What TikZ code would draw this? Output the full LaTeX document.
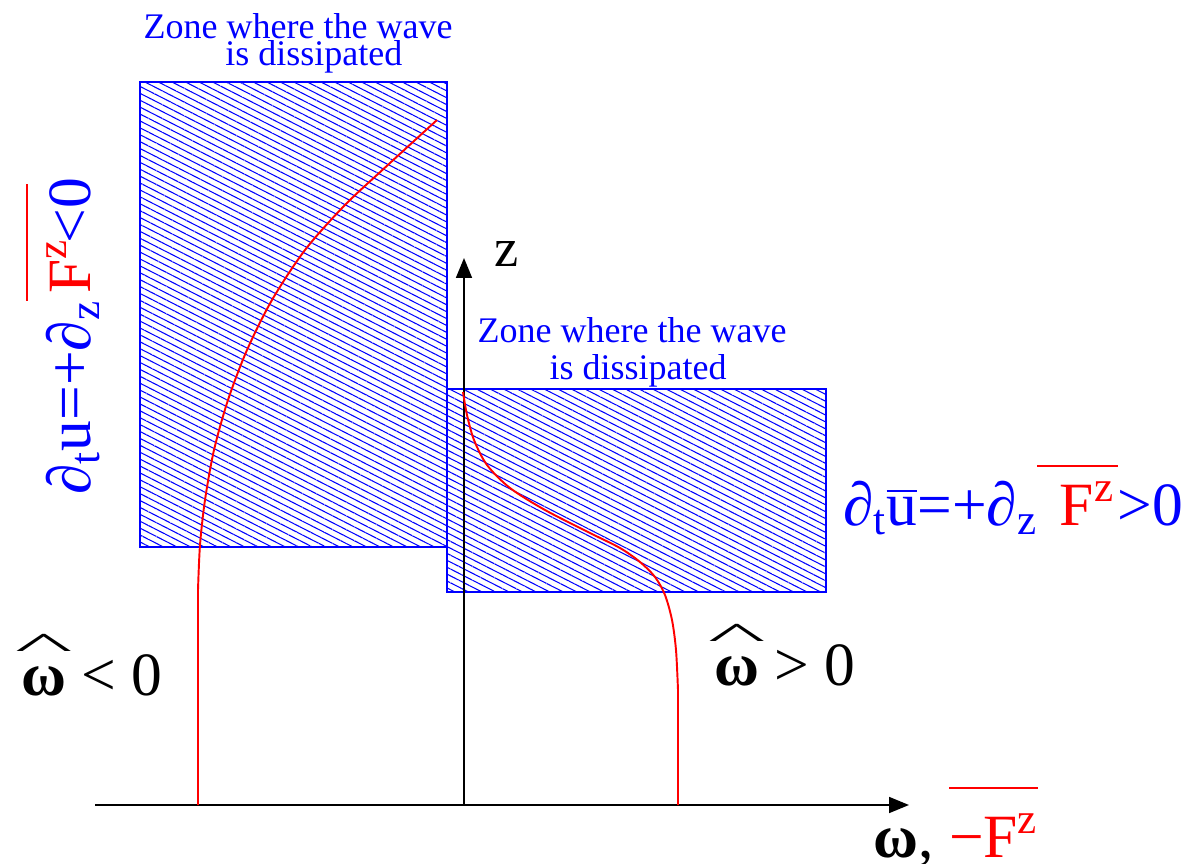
\documentclass[tikz,border=0pt]{standalone}
\usepackage{fix-cm}
\usepackage{amsmath}
\usepackage{fontspec}
\setmainfont{Liberation Serif}
\usetikzlibrary{arrows.meta, patterns.meta}

% omega with a wide chevron hat
\newcommand{\omhat}{{\ooalign{\textbf{ω}\cr\hidewidth\raisebox{0.6em}{\scalebox{2.0}[0.6]{\textasciicircum}}\hidewidth\cr}}}

\begin{document}
\begin{tikzpicture}[
  x=0.02cm, y=-0.02cm,
  zone/.style={draw=blue, line width=1pt, pattern color=blue,
               pattern={Lines[angle=-27, distance=3.5pt, line width=0.6pt]}},
  wave/.style={red, line width=1.1pt},
  axis/.style={-{Triangle[length=0.4cm, width=0.32cm]}, line width=1pt},
  zonelabel/.style={blue, align=center, inner sep=0pt},
  eqlabel/.style={blue, inner sep=0pt, anchor=base west,
                  font=\fontsize{35}{40}\selectfont},
  omegalabel/.style={inner sep=0pt, anchor=base west,
                     font=\fontsize{35}{40}\selectfont}
]
\useasboundingbox (0,0) rectangle (1203,864);

% dissipation zones
\draw[zone] (140,82) rectangle (447,547);
\draw[zone] (447,389) rectangle (826,592);

\node[zonelabel, font=\fontsize{20.5}{15.4}\selectfont] (topzone) at (298,43)
  {Zone where the wave\\\hspace*{18pt}is dissipated};
\node[zonelabel, font=\fontsize{20.5}{21}\selectfont] (midzone) at (632,352)
  {Zone where the wave\\\hspace*{7pt}is dissipated};

% axes
\coordinate (origin) at (464,805);
\coordinate (xstart) at (95,805);
\coordinate (xend) at (909,805);
\coordinate (ztip) at (464,258);
\draw[axis] (xstart) -- (xend);
\draw[axis] (origin) -- (ztip);
\node[font=\fontsize{31}{31}\selectfont, anchor=base, inner sep=0pt] (zlabel) at (507,267) {z};
\node[omegalabel] (xlabel) at (873,857)
  {\textbf{ω}, \textcolor{red}{$\overline{\text{−F}^{\text{z}}\rule{0pt}{1.02em}}$}};

% wave profiles
\draw[wave] (198,805) -- (198,590)
  plot[smooth] coordinates {(198,590) (200,545) (205,500) (214,450) (228,400)
    (247,350) (272,300) (305,250) (345,205) (390,163) (437,120)};
\draw[wave] (678,805) -- (678,690)
  plot[smooth] coordinates {(678,690) (676,650) (672,620) (665,595) (655,577)
    (640,562) (620,548) (590,533) (545,510) (510,488) (487,465) (474,440)
    (467,415) (463,392)};

% labels
\node[omegalabel] (negomega) at (21,695) {\omhat{} < 0};
\node[omegalabel] (posomega) at (714,685) {\omhat{} > 0};
\node[eqlabel] (rightlaw) at (843,525)
  {∂\textsubscript{t}$\overline{\text{u}}$=+∂\textsubscript{z}\textcolor{red}{$\overline{\hspace{13pt}\text{F}^{\text{z}}\hspace{2pt}\rule{0pt}{0.86em}}$}>0};
\node[eqlabel, rotate=90] (leftlaw) at (90,495)
  {∂\textsubscript{t}u=+∂\textsubscript{z}\textcolor{red}{$\overline{\hspace{4pt}\text{F}^{\text{z}}\hspace{32pt}\rule{0pt}{0.92em}}$}\hspace{-34pt}<0};
\end{tikzpicture}
\end{document}
